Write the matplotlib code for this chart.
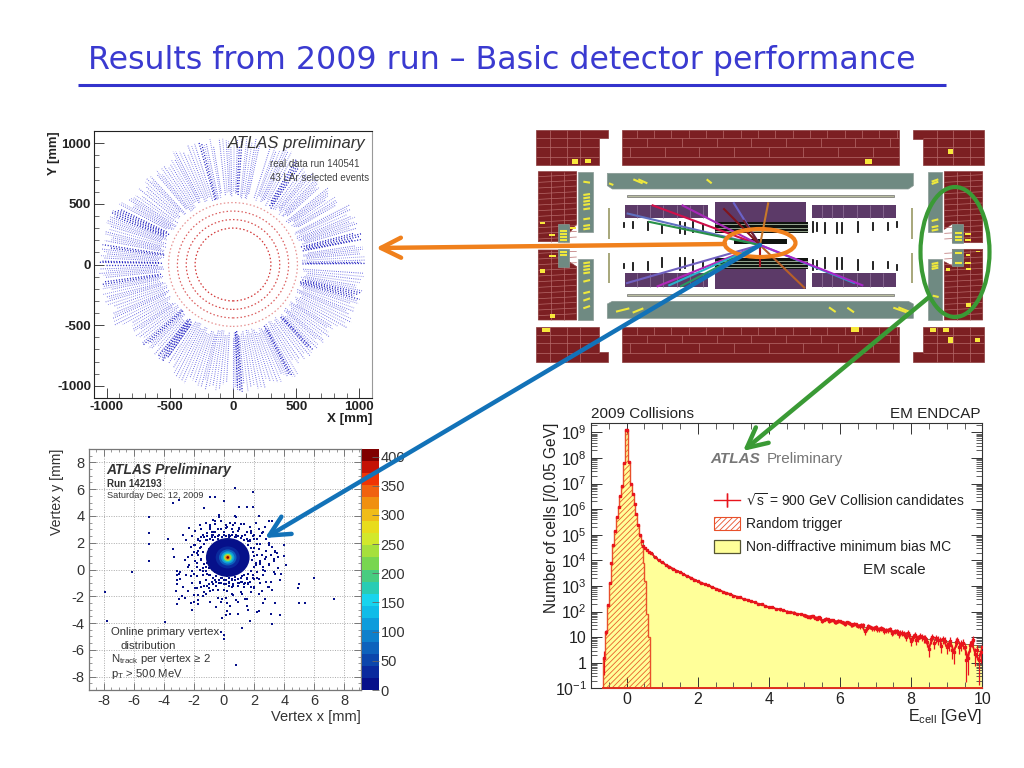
import numpy as np
import matplotlib
matplotlib.use("Agg")
import matplotlib.pyplot as plt
from matplotlib.colors import ListedColormap, Normalize
from matplotlib.cm import ScalarMappable
from matplotlib.collections import LineCollection
from matplotlib.patches import Polygon, Rectangle, Ellipse, Circle, Patch
from matplotlib.ticker import FixedLocator, MultipleLocator, NullFormatter, LogLocator

plt.rcParams['font.family'] = ['Liberation Sans', 'DejaVu Sans']
plt.rcParams['mathtext.default'] = 'regular'
plt.rcParams['hatch.linewidth'] = 0.6
plt.rcParams['axes.unicode_minus'] = False

# ---- data: cell hits (panel 1)
spoke_light = [2,5,7,9,17,19,21,23,26,28,31,33,36,38,40,43,45,47,50,52,55,62,65,67,70,73,78,80,83,88,91,93,96,99,102,
               107,110,113,116,118,121,124,127,129,132,134,137,140,142,145,147,149,151,158,160,162,165,167,169,173,
               175,177,182,184,186,190,192,195,197,200,203,205,208,211,214,216,219,222,225,227,230,233,236,238,241,
               244,247,250,253,256,258,261,264,267,270,272,275,278,281,284,287,290,293,295,298,301,304,306,309,312,
               314,317,319,322,325,327,330,333,336,338,341,343,348,350,353,356]
spoke_extra = [3.5,6,8,18,20,22,24.5,27,32,34.5,37,39,44,46,48.5,51,53.5,63.5,66,68.5,71,79,81.5,84,89.5,92,94.5,100,
               103,108.5,111.5,114.5,117,119.5,122.5,125.5,128,133,135.5,138.5,143.5,146,148,150,159,161,163.5,166,168,
               174,176,183,185,191,193.5,196,198.5,201.5,204,206.5,209.5,212.5,215,217.5,220.5,226,228.5,231.5,234.5,
               239.5,242.5,245.5,248.5,251.5,254.5,257,259.5,262.5,265.5,271,273.5,276.5,279.5,282.5,285.5,288.5,291.5,
               294,296.5,299.5,302.5,307.5,310.5,313,315.5,318,320.5,323.5,326,328.5,331.5,334.5,337,339.5,342,349,351.5,354.5]
spoke_dense = [0.5,1,11.5,12,13,14,15,57,58,59,60,86,87,104,105,153,154,155,156,157,171,172,178.5,179,180,188,189,223,224,
               232,233,234,235,236,272,273,274,296,297,311,312,344,345,346,347]
spoke_start = [550,587,563,604,575,596,557]
spoke_trim = [0,-42,-15,-73,-27,-6,-58,-33,-11]
rim_sector_deg = [0,30,60,120,150,210,240,300,330]
rim_radius = [1050,985,1050,985,1060,975,1050,970,1050]
ring_radii = [300,370,440,510]

# ---- data: vertex map (panel 3)
vx_core_rx = [1.45,0.80,0.58,0.44,0.33,0.25,0.17,0.09]
vx_core_ry = [1.45,0.82,0.60,0.46,0.35,0.26,0.18,0.10]
vx_core_counts = [8,30,70,120,170,240,330,405]
vx_x = [-7.9,-7.8,-6.1,-5,-5,-5,-5,-3.95,-3.4,-3,-0.9,-0.6,0,0.7,1.9,1,1.5,1.9,-1.3,-0.3,0.7,0.8,2.3,3,3.2,4,4,4.1,6,5,4.9,5,5.4,7.3,
        0,0,-0.2,1.2,0.8,1.7,3.2,3.7,3.1,-0.1,0.1,0.2,0.4,0.9,1.5,1.6,2.3,2.2,2.6,3.4,-2.1,-3.1,-3,-2.8,-2.6,-2,-1.7,
        -3.7,-3.4,-3.3,-3.1,-3,-2.9,-3.2,-2.7,-2.5,-2.4,-2.2,-2.1,-2,-1.9,-1.8,-1.7,-1.6,-1.5,-1.4,-1.3,-1.2,-1.1,-1,-0.9,-0.8,
        -2.7,-2.5,-2.3,-2.1,-2,-1.9,-1.8,-1.7,-1.6,-1.5,-1.4,-1.3,-1.2,-1.1,-1,-0.9,-0.8,-0.7,-0.6,
        -2.4,-2.2,-2,-1.8,-1.7,-1.6,-1.4,-1.3,-1.2,-1,-0.9,-0.7,-0.5,-0.4,-0.3,-0.2,0,0.1,0.2,0.3,0.5,0.6,0.8,1,1.1,1.3,1.4,1.6,1.8,2,
        -1.5,-1.3,-1.1,-0.9,-0.7,-0.6,-0.4,-0.2,0,0.1,0.3,0.5,0.7,0.8,1,1.2,1.3,1.5,1.7,1.9,2.1,2.3,2.5,2.7,
        -1.2,-1,-0.8,-0.6,-0.4,-0.2,0,0.2,0.3,0.5,0.7,0.9,1.1,1.3,1.5,1.7,1.8,2,2.2,2.4,2.6,2.8,3,3.2,
        -0.7,-0.4,-0.2,0,0.2,0.4,0.6,0.8,1,1.2,1.4,1.6,1.8,2,2.2,2.4,2.6,2.8,3,3.2,3.4,3.6,
        -0.5,-0.1,0.1,0.4,0.6,0.9,1.2,1.5,2,2.3,2.5,2.7,2.9,3.1,3.4,3.7,
        -1.7,-1.6,-1.9,-2.1,-0.9,-0.8,-0.6,-0.3,0.1,0.4,0.6,0.9,1.1,1.5,1.7,2,2.2,2.4,2.6,2.8,3,3.3,3.5,3.8,
        -1.8,-1.5,-1.4,-1.1,-1,-0.6,-0.2,0.2,0.5,1.2,1.9,2.1,2.4,2.7,3,3.3,3.6]
vx_y = [-1.65,-3.85,-0.15,3.95,2.7,1.9,0.65,-3.95,5,5.2,5.4,5.4,5.1,6.05,5.8,4.65,4.65,4.7,4.6,4.05,4,3.9,4,3.6,3.6,1.8,1,0.3,-0.65,-1.05,-1.4,-2.5,-2.5,-2.2,
        -4.9,-5.2,-4.7,-4.4,-7.1,-3.85,-4.1,-3.4,-3.3,-3.6,-3.4,-3.1,-3.3,-3.3,-2.7,-3,-3.1,-3.2,-2.5,-2.5,-3,-2.6,-2.2,-2,-2.1,-2.4,-2.3,
        2.3,1.5,0.9,-0.1,-0.3,-0.7,-1.6,-1.3,-0.4,0.2,-0.5,-1,-0.3,-1.4,-0.5,-1.9,-0.9,-1.3,-0.4,-1.7,-0.8,-1.2,-0.4,-1.6,-0.9,
        2.6,2.2,3.1,2.5,1.8,2.9,1.2,2.2,3.3,1.7,2.6,1.9,3.5,2.2,1.5,3,2.4,3.7,2.8,
        -1.6,-2.5,-1.9,-1.4,-2.6,-1,-2,-1.2,-1.8,-1.1,-2.4,-1.5,-1.2,-2.1,-1,-2.4,-1.5,-1.1,-2.5,-1,-1.8,-1.2,-2.3,-1,-1.7,-1.3,-2.2,-1,-1.7,-1.3,
        3,2.4,2.7,3.2,2.6,3.4,3,3.6,2.8,3.3,2.6,3,3.5,2.6,3.1,2.5,3.4,2.8,3.2,2.5,3.5,3,2.7,3.2,
        -0.8,-1.4,-0.9,-0.8,-1.5,-1,-0.8,-1.6,-0.9,-1.3,-0.8,-1,-0.9,-1.1,-0.7,-0.9,-1.3,-0.7,-0.6,-1,-0.4,-0.9,-1.3,-1.5,
        2.8,2.5,3,2.6,3.2,2.5,2.8,2.4,3,2.5,2.6,2.1,2.7,2.3,1.9,2.5,2.8,2.3,2,1.7,1.3,0.9,
        -2.8,-2.2,-2.1,-2.7,-1.9,-2.4,-1.8,-2.2,-1.4,-1.8,-1.6,-2.2,-1.3,-0.9,-0.3,-0.8,
        1.4,2.1,0.6,1.1,3.3,2.8,3.6,3.9,3.1,3.5,3.3,2.9,3.4,2.8,2.2,1.6,1.1,0.6,0.2,0.9,0.4,0.6,1.2,-0.3,
        0.2,0.7,-0.1,0.5,0.1,-0.2,-0.6,-0.5,-0.7,-0.5,-0.4,0.3,0.5,-0.1,0.3,-0.2,0.1]
vx_near_x = [-1.3,-1.2,-1.4,-1.5,-1.6,-1.7,-1.8,-1.3,-1.4,-1.2,-1.6,-1.9,-2,-1.1,-0.9,-0.8,-0.7,-0.6,-0.4,-0.3,-0.1,0.1,0.3,0.5,0.7,0.9,
             1.1,1.3,1.5,1.7,1.6,1.8,1.9,2,1.85,2.1,2,1.8,1.6,1.5,1.3,1.1,0.9,0.7,0.5,0.3,0.1,-0.1,-0.3,-0.5,-0.7,-0.9,-1.1,-1.2,
             2.3,2.5,2.7,2.4,2.6,2.2,2.4,2.2,2,1.8,-1.5,-1.7,-2.2,-2.4,-2.3,-2.1,-2.6,-2.9,-3.1,-3.1,-3.1,-0.2,0,0.3,0.6,0.9,-0.5,-0.7,
             1.2,1.4,1.6,1.9,2.3,2.8,3.1,3.3,3,3.4]
vx_near_y = [1.9,2.2,1.3,0.8,1.6,1.1,0.5,0.4,0.1,-0.1,0,1.8,1.3,2.5,2.3,2.6,2.2,2.45,2.3,2.55,2.4,2.5,2.4,2.55,2.4,2.5,
             2.35,2.2,2.3,2.1,1.8,1.6,1.3,1,0.7,0.5,0.2,-0.1,-0.3,-0.6,-0.4,-0.6,-0.7,-0.55,-0.8,-0.65,-0.8,-0.6,-0.75,-0.5,-0.6,-0.4,-0.35,0.15,
             1.5,1.1,0.8,0.4,0,-0.2,1.9,2.3,2.6,2.9,2.4,2.3,1.7,0.9,0.3,-0.1,0.7,-0.2,-0.4,-0.8,-1.1,-1,-1.1,-1.2,-1.1,-1.2,-0.9,-1.1,
             -0.9,-1,-1.1,-0.6,-0.7,1.4,1.1,0.8,1.8,1.4]
colour_levels = ['#06108a','#0a2a9e','#0c46ac','#0e62bc','#0e80cc','#0e9cdc','#10bce8','#18d4ee','#28ccb4','#48cc80',
                 '#78d650','#a6e03c','#d2e82c','#e8dc1c','#f0bc18','#f09010','#f06210','#f03404','#c41204','#800000']

# ---- data: energy spectrum (panel 4)
core_log_rt = [0.2,1.2,2.25,3.1,3.9,4.6,5.15,5.7,6.1,6.5,6.9,7.8,9.1,9.1,7.85,7.0,6.6,6.2,5.8,5.4,5.0,4.6,3.9,3.2,1.9,1.0]
core_log_mc = [0.2,1.2,2.25,3.1,3.9,4.6,5.15,5.7,6.1,6.5,6.9,7.8,9.1,9.1,7.85,7.0,6.6,6.2,5.8,5.4,5.0,4.75,4.58,4.47,4.40,4.33]
tail_log_mc = [4.28,4.14,4.02,3.92,3.84,3.76,3.68,3.61,3.54,3.47,
               3.40,3.33,3.26,3.19,3.13,3.08,3.03,2.97,2.91,2.85,
               2.79,2.74,2.68,2.63,2.59,2.54,2.50,2.45,2.41,2.36,
               2.32,2.27,2.23,2.19,2.16,2.12,2.09,2.05,2.02,1.99,
               1.95,1.92,1.89,1.85,1.82,1.79,1.77,1.74,1.71,1.69,
               1.67,1.64,1.62,1.59,1.56,1.54,1.51,1.49,1.46,1.43,
               1.41,1.38,1.35,1.32,1.29,1.27,1.24,1.22,1.19,1.16,
               1.14,1.11,1.08,1.05,1.03,1.00,0.98,0.96,0.94,0.92,
               0.90,0.88,0.86,0.84,0.82,0.80,0.78,0.76,0.74,0.72,
               0.70,0.68,0.67,0.65]
tail_log_data = [4.27,4.13,4.01,3.92,3.83,3.76,3.68,3.60,3.54,3.46,
                 3.39,3.33,3.25,3.18,3.13,3.07,3.02,2.96,2.90,2.85,
                 2.78,2.73,2.69,2.62,2.58,2.55,2.48,2.46,2.40,2.37,
                 2.30,2.28,2.22,2.17,2.17,2.10,2.08,2.06,2.00,1.98,
                 1.96,1.90,1.90,1.86,1.80,1.83,1.76,1.78,1.62,1.72,
                 1.64,1.66,1.60,1.62,1.55,1.58,1.50,1.52,1.45,1.48,
                 1.22,1.42,1.34,1.38,1.32,1.33,1.26,1.30,1.20,1.22,
                 1.17,1.13,1.16,0.85,1.10,0.98,1.02,0.95,0.55,1.00,
                 0.96,0.88,0.92,0.62,0.85,0.40,0.88,0.72,0.60,0.20,
                 0.82,0.35,0.10,0.60]
half_bin_e = [5.05,5.15,5.25,5.35,5.45,5.55,5.65,5.75,5.85,5.95,6.05,6.15,6.25,6.35,6.45,6.55,6.65,6.75,6.85,6.95,
              7.05,7.15,7.25,7.35,7.45,7.55,7.65,7.75,7.85,7.95,8.05,8.15,8.25,8.35,8.45,8.55,8.65,8.75,8.85,8.95,
              9.05,9.15,9.25,9.35,9.45,9.55,9.65,9.75,9.85,9.95]
half_bin_log = [1.84,1.78,1.81,1.72,1.74,1.68,1.70,1.66,1.60,1.63,1.58,1.52,1.55,1.49,1.50,1.42,1.46,1.36,1.40,1.34,
                1.30,1.34,1.25,1.28,1.18,1.24,1.12,1.16,1.02,1.10,1.00,0.90,1.06,0.96,0.82,0.92,0.78,0.90,0.66,0.86,
                0.70,0.50,0.82,0.62,0.78,0.12,0.68,0.90,0.48,0.42]
ytick_powers = [-1,0,1,2,3,4,5,6,7,8,9]

# ---- data: detector schematic, in schematic units
brick_polys = [[(18,30),(235,30),(235,55),(207,55),(207,135),(18,135)],
               [(275,30),(1107,30),(1107,135),(275,135)],
               [(1150,30),(1363,30),(1363,135),(1178,135),(1178,58),(1150,58)],
               [(18,620),(207,620),(207,697),(235,697),(235,725),(18,725)],
               [(275,620),(1107,620),(1107,725),(275,725)],
               [(1178,620),(1363,620),(1363,725),(1150,725),(1150,697),(1178,697)],
               [(25,155),(140,155),(140,312),(117,340),(117,365),(25,365)],
               [(25,390),(117,390),(117,425),(140,440),(140,600),(25,600)],
               [(1243,155),(1358,155),(1358,368),(1267,368),(1267,312),(1243,328)],
               [(1267,388),(1358,388),(1358,600),(1243,600),(1243,425),(1267,438)]]
grey_polys = [[(232,160),(1150,160),(1150,197),(1135,207),(247,207),(232,197)],
              [(247,544),(1135,544),(1150,552),(1150,595),(232,595),(232,552)],
              [(145,155),(188,155),(188,335),(145,335)],[(145,418),(188,418),(188,600),(145,600)],
              [(1195,155),(1237,155),(1237,335),(1195,335)],[(1195,418),(1237,418),(1237,600),(1195,600)],
              [(83,312),(117,312),(117,365),(83,365)],[(83,388),(117,388),(117,440),(83,440)],
              [(1267,312),(1300,312),(1300,368),(1267,368)],[(1267,388),(1300,388),(1300,438),(1267,438)]]
purple_rects = [(285,255,248,40),(555,247,272,58),(847,255,250,40),(285,460,248,42),(555,447,272,61),(847,460,250,42)]
dark_rects = [(555,305,278,35),(555,415,278,32),(612,358,160,14)]
pale_rects = [(290,224,803,7),(290,521,803,7)]
yellow_rects = [(125,118,20,13),(165,118,18,12),(1253,86,17,16),(1005,116,22,15),(35,624,26,12),(963,622,25,15),
                (1200,624,18,12),(1238,624,18,12),(1253,652,17,16),(1335,654,14,13),(60,582,15,12),(30,448,16,10),
                (58,405,20,6),(58,343,18,6),(30,307,15,5),(120,322,18,5),(1305,340,18,5),(1305,358,18,5),(1307,403,14,5),
                (1305,427,18,5),(1307,445,16,6),(1248,444,12,8),(1337,392,14,4),(1308,550,14,10)]
yellow_segs = [[(310,178),(338,190)],[(325,178),(352,190)],[(530,178),(545,190)],[(237,190),(250,195)],
               [(258,575),(298,565)],[(308,578),(340,565)],[(897,562),(917,576)],[(952,563),(972,577)],
               [(1090,563),(1130,577)],[(1105,562),(1140,576)],
               [(160,185),(180,188)],[(160,225),(180,222)],[(160,235),(180,232)],[(160,245),(180,242)],[(160,255),(180,252)],
               [(160,268),(180,265)],[(160,298),(180,295)],[(160,318),(180,315)],[(160,328),(180,325)],
               [(160,430),(180,427)],[(160,440),(180,437)],[(160,450),(180,447)],[(160,460),(180,457)],
               [(160,485),(180,480)],[(160,520),(180,515)],[(160,542),(180,535)],[(160,565),(180,558)],
               [(1205,185),(1225,178)],[(1205,192),(1225,185)],[(1205,303),(1225,298)],[(1205,322),(1225,318)],[(1205,332),(1225,328)],
               [(1205,432),(1225,428)],[(1205,440),(1225,436)],[(1205,447),(1225,443)],[(1208,527),(1226,531)],
               [(90,333),(110,333)],[(90,342),(110,342)],[(90,351),(110,351)],[(90,360),(110,360)],[(90,395),(110,395)],[(90,405),(110,405)],
               [(1275,340),(1295,340)],[(1275,350),(1295,350)],[(1275,360),(1295,360)],[(1275,400),(1295,400)],[(1275,430),(1295,430)]]
black_ticks_x = [283,310,353,397,450,465,490,520,850,862,885,920,935,985,1030,1075,1100]
black_ticks_top = [(310,322),(305,325),(305,330),(315,340),(305,340),(310,342),(305,335),(312,330),(305,335),
                   (308,332),(310,340),(308,340),(308,340),(305,335),(308,330),(310,330),(305,320)]
side_lines = [[(237,265),(237,358)],[(237,398),(237,490)],[(1147,265),(1147,358)],[(1147,400),(1147,490)]]
track_ends = [(365,255),(455,255),(610,247),(580,265),(715,247),(290,280),(355,305),(288,490),(380,500),
              (415,497),(450,500),(690,440),(825,505),(975,490),(1000,497),(640,300)]
track_colours = ['#d0104a','#a828b8','#6a62c8','#80141c','#c8782a','#6070c0','#289048','#7060c0','#b028b8',
                 '#28b0c8','#289860','#a01020','#b86028','#28a0c8','#a828c8','#702030']
track_origin = (690,375)


def axes_px(x0, y0, x1, y1, **kw):
    return fig.add_axes([x0/1024, 1-y1/768, (x1-x0)/1024, (y1-y0)/768], **kw)


fig = plt.figure(figsize=(10.24, 7.68), dpi=100, facecolor='white')

# ======== panel 1: hits
a = axes_px(94, 131, 372, 398)
a.set_xlim(-1100, 1100); a.set_ylim(-1100, 1100)
def rim(angle):
    i = np.searchsorted(rim_sector_deg, angle % 360, side='right') - 1
    return rim_radius[i]
for angles, col, lw in ((spoke_light, '#5c5ce0', 0.75), (spoke_extra, '#7c7ce8', 0.7), (spoke_dense, '#1c1cc0', 0.95)):
    for k, ang in enumerate(angles):
        t = np.deg2rad(ang)
        r0 = spoke_start[k % len(spoke_start)]
        r1 = rim(ang) + spoke_trim[k % len(spoke_trim)]
        a.plot([r0*np.cos(t), r1*np.cos(t)], [r0*np.sin(t), r1*np.sin(t)],
               color=col, lw=lw, ls=(0, (0.8, 1.3)))
for r, al in zip(ring_radii, (0.95, 0.85, 0.75, 0.5)):
    a.add_patch(Circle((0, 0), r, fill=False, ec='#cf2a2a', lw=0.9, ls=(0, (1.2, 1.8)), alpha=al))
a.set_xticks([-1000, -500, 0, 500, 1000]); a.set_yticks([-1000, -500, 0, 500, 1000])
a.xaxis.set_minor_locator(MultipleLocator(100)); a.yaxis.set_minor_locator(MultipleLocator(100))
a.tick_params(which='major', direction='in', length=7, width=0.7, color='#444', labelsize=9.6, pad=2)
a.tick_params(which='minor', direction='in', length=3.5, width=0.6, color='#555')
for l in a.get_xticklabels() + a.get_yticklabels():
    l.set_fontweight('bold'); l.set_color('#222')
for sd, col in (('top', '#222'), ('left', '#222'), ('bottom', '#222'), ('right', '#999')):
    a.spines[sd].set_color(col); a.spines[sd].set_linewidth(0.8)
a.set_xlabel('X [mm]', fontsize=9.6, fontweight='bold', loc='right', labelpad=0, color='#222')
a.set_ylabel('Y [mm]', fontsize=9.4, fontweight='bold', loc='top', labelpad=-2, color='#222')
a.text(0.975, 0.955, 'ATLAS preliminary', transform=a.transAxes, ha='right', va='center', style='italic', fontsize=12, color='#333')
a.text(0.955, 0.875, 'real data run 140541', transform=a.transAxes, ha='right', va='center', fontsize=7, color='#444')
a.text(0.99, 0.825, '43 LAr selected events', transform=a.transAxes, ha='right', va='center', fontsize=7, color='#444')

# ======== panel 2: detector schematic
d = axes_px(530, 120, 990, 370)
d.set_xlim(0, 1380); d.set_ylim(750, 0); d.axis('off')
for poly in brick_polys:
    d.add_patch(Polygon(poly, closed=True, fc='#7c1f22', ec='#8a3a3a', lw=0.5, zorder=1))
hl = []
for y0 in (30, 620):
    for y in (y0+25, y0+50, y0+80):
        hl += [[(18,y),(207,y)], [(275,y),(1107,y)], [(1178,y),(1363,y)]]
    for k, x in enumerate(range(300, 1100, 52)):
        yy = (y0+25, y0+50) if k % 2 else (y0+50, y0+80)
        hl.append([(x, yy[0]), (x, yy[1])])
        hl.append([(x+20, y0), (x+20, y0+25)])
    for x in (60, 110, 150, 1220, 1270, 1320):
        hl.append([(x, y0), (x, y0+105)])
for x0, x1 in ((25,140),(1243,1358)):
    for y in list(range(170,365,17)) + list(range(400,600,17)):
        hl.append([(x0,y),(x1,y-6)])
    for x in (x0+38, x0+78):
        hl += [[(x,155),(x,365)], [(x,390),(x,600)]]
d.add_collection(LineCollection(hl, colors='#b66a6a', linewidths=0.5, zorder=2))
for poly in grey_polys:
    d.add_patch(Polygon(poly, closed=True, fc='#6f8a82', ec='#8a9a94', lw=0.5, zorder=3))
for x, y, w, h in purple_rects:
    d.add_patch(Rectangle((x, y), w, h, fc='#5c3a68', ec='none', zorder=3))
d.add_collection(LineCollection([[(x,255),(x,295)] for x in range(320,533,40)] + [[(x,460),(x,502)] for x in range(320,533,40)] +
                                [[(x,255),(x,295)] for x in (875,905,940,980,1020,1060)] + [[(x,460),(x,502)] for x in (875,905,940,980,1020,1060)],
                                colors='#8a6c94', linewidths=0.6, zorder=4))
for x, y, w, h in dark_rects:
    d.add_patch(Rectangle((x, y), w, h, fc='#101410', ec='none', zorder=4))
d.add_collection(LineCollection([[(555,y),(833,y)] for y in (313,323,332,423,432,441)], colors='#c8dcc0', linewidths=0.5, zorder=5))
for x, y, w, h in pale_rects:
    d.add_patch(Rectangle((x, y), w, h, fc='#b8bca0', ec='#555', lw=0.4, zorder=3))
for x, (t0, t1) in zip(black_ticks_x, black_ticks_top):
    d.plot([x, x], [t0, t1], color='#111', lw=1.3, zorder=5)
    d.plot([x, x], [755-t1, 755-t0], color='#111', lw=1.3, zorder=5)
d.add_collection(LineCollection(side_lines, colors='#a0a070', linewidths=1.3, zorder=3))
for x, y, w, h in yellow_rects:
    d.add_patch(Rectangle((x, y), w, h, fc='#f8e83c', ec='none', zorder=6))
d.add_collection(LineCollection(yellow_segs, colors='#eee83c', linewidths=1.5, zorder=6))
for end, col in zip(track_ends, track_colours):
    d.plot([track_origin[0], end[0]], [track_origin[1], end[1]], color=col, lw=1.5, zorder=7, solid_capstyle='butt')

# ======== panel 3: vertex map
v = axes_px(88.5, 449, 361, 690)
v.set_xlim(-9, 9.1); v.set_ylim(-9, 9)
cmap = ListedColormap(colour_levels)
norm = Normalize(0, 413)
v.scatter(vx_x, vx_y, s=3.0, marker='s', color=colour_levels[0], linewidths=0, zorder=3)
v.scatter(vx_near_x, vx_near_y, s=3.5, marker='s', color=colour_levels[0], linewidths=0, zorder=3)
for rx, ry, n in zip(vx_core_rx, vx_core_ry, vx_core_counts):
    v.add_patch(Ellipse((0.25, 0.9), 2*rx, 2*ry, fc=cmap(norm(n)), ec='none', zorder=4))
v.set_xticks(range(-8, 9, 2)); v.set_yticks(range(-8, 9, 2))
v.xaxis.set_minor_locator(MultipleLocator(0.5)); v.yaxis.set_minor_locator(MultipleLocator(0.5))
v.grid(True, which='major', color='#aaaaaa', lw=0.7, ls=(0, (1, 1.5)))
v.set_axisbelow(True)
v.tick_params(which='major', direction='in', length=5, width=0.7, color='#777', labelsize=10.5, labelcolor='#333', pad=3, top=True, right=True)
v.tick_params(which='minor', direction='in', length=2.5, width=0.6, color='#888', top=True, right=True)
for sp in v.spines.values():
    sp.set_color('#777'); sp.set_linewidth(0.9)
v.set_xlabel('Vertex x [mm]', fontsize=10.5, loc='right', labelpad=1, color='#333')
v.set_ylabel('Vertex y [mm]', fontsize=10.2, loc='top', labelpad=5, color='#333')
kw = dict(transform=v.transData, va='center', color='#333', zorder=6)
v.text(-7.8, 7.45, 'ATLAS Preliminary', style='italic', fontweight='bold', fontsize=10, **kw)
v.text(-7.8, 6.35, 'Run 142193', fontweight='bold', fontsize=7, **kw)
v.text(-7.8, 5.5, 'Saturday Dec. 12, 2009', fontsize=6.6, **kw)
v.text(-7.5, -4.65, 'Online primary vertex', fontsize=8.2, **kw)
v.text(-6.9, -5.75, 'distribution', fontsize=8.2, **kw)
v.text(-7.5, -6.7, r'N$_{track}$ per vertex ≥ 2', fontsize=8.2, **kw)
v.text(-7.5, -7.8, r'p$_{T}$ > 500 MeV', fontsize=8.2, **kw)
c = axes_px(362, 449, 378.5, 690)
cb = fig.colorbar(ScalarMappable(norm=norm, cmap=cmap), cax=c)
cb.set_ticks(range(0, 401, 50))
cb.ax.tick_params(direction='in', length=5, width=0.6, color='#666', labelsize=10.5, labelcolor='#333', pad=1.5)
cb.outline.set_visible(False)

# ======== panel 4: spectrum
s = axes_px(591, 422.7, 982.3, 688.3)
core_edges = np.round(np.arange(-0.65, 0.651, 0.05), 2)
core_mid = (core_edges[:-1] + core_edges[1:]) / 2
tail_e = np.round(np.arange(0.7, 10.05, 0.1), 1)
edges = np.concatenate([core_edges, tail_e + 0.05])
mc = 10.0 ** np.array(core_log_mc + tail_log_mc)
rt = 10.0 ** np.array(core_log_rt)
dat_x = np.concatenate([core_mid, tail_e])
dat_y = 10.0 ** np.array(core_log_mc + tail_log_data)
half_y = 10.0 ** np.array(half_bin_log)
s.set_yscale('log')
s.set_xlim(-1, 10); s.set_ylim(0.1, 2.4e9)
s.stairs(mc, edges, baseline=0.1, fill=True, facecolor='#ffff99', edgecolor='none', zorder=1)
s.stairs(mc, edges, baseline=0.1, fill=False, edgecolor='#666644', lw=0.6, zorder=2)
s.stairs(rt, core_edges, baseline=0.1, fill=True, facecolor='none', edgecolor='#e8602a', hatch='//////', lw=0, zorder=3)
s.stairs(rt, core_edges, baseline=0.1, fill=False, edgecolor='#e8502a', lw=1.0, zorder=3)
s.plot([-0.65, 10], [0.1, 0.1], color='#e03020', lw=1.4, zorder=4, clip_on=False)
for xs, ys in ((dat_x, dat_y), (half_bin_e, half_y)):
    err = np.sqrt(ys)
    s.errorbar(xs, ys, yerr=[np.minimum(err, ys - 0.1001), err], fmt='s', ms=2.0, color='#e8141c', ecolor='#e8141c',
               elinewidth=0.9, capsize=0, zorder=5)
s.plot(dat_x[26:], dat_y[26:], color='#e8141c', lw=1.3, zorder=5)
s.set_xticks(range(0, 11, 2))
s.xaxis.set_minor_locator(MultipleLocator(0.5))
s.yaxis.set_major_locator(FixedLocator([10.0**p for p in ytick_powers]))
s.yaxis.set_minor_locator(LogLocator(base=10, subs=range(2, 10), numticks=20))
s.yaxis.set_minor_formatter(NullFormatter())
s.set_yticklabels([r'10$^{-1}$', '1', '10'] + [rf'10$^{{{p}}}$' for p in ytick_powers[3:]])
s.tick_params(which='major', direction='in', length=8, width=0.7, color='#333', labelsize=11.5, labelcolor='#222', top=True, right=True, pad=3)
s.tick_params(which='minor', direction='in', length=4, width=0.6, color='#444', top=True, right=True)
for sp in s.spines.values():
    sp.set_color('#333'); sp.set_linewidth(0.8)
s.set_xlabel(r'E$_{cell}$ [GeV]', fontsize=11.5, loc='right', labelpad=0, color='#222')
s.set_ylabel('Number of cells [/0.05 GeV]', fontsize=11.2, loc='top', labelpad=-3, color='#222')
s.text(0, 1.005, '2009 Collisions', transform=s.transAxes, fontsize=11, color='#222', va='bottom')
s.text(0.995, 1.005, 'EM ENDCAP', transform=s.transAxes, fontsize=11, color='#222', va='bottom', ha='right')
s.text(0.305, 0.865, 'ATLAS', transform=s.transAxes, fontsize=11, style='italic', fontweight='bold', color='#777', va='center')
s.text(0.448, 0.865, 'Preliminary', transform=s.transAxes, fontsize=11, color='#777', va='center')
s.text(0.695, 0.447, 'EM scale', transform=s.transAxes, fontsize=11, color='#222', va='center')
h_data = s.errorbar([], [], yerr=[], fmt='-', marker='|', ms=10, color='#e8141c', lw=1)
h_rt = Patch(facecolor='white', edgecolor='#e8502a', hatch='//////', lw=0.8)
h_mc = Patch(facecolor='#ffff99', edgecolor='#555533', lw=0.9)
leg = s.legend([h_data, h_rt, h_mc], [r'$\sqrt{s}$ = 900 GeV Collision candidates', 'Random trigger', 'Non-diffractive minimum bias MC'],
               loc='upper left', bbox_to_anchor=(0.315, 0.74), frameon=False, fontsize=10, handlelength=1.87, handleheight=1.1,
               labelspacing=0.6, handletextpad=0.45, borderpad=0, borderaxespad=0)
for t in leg.get_texts():
    t.set_color('#222')

# ======== slide title, ellipses, arrows
o = fig.add_axes([0, 0, 1, 1], facecolor='none')
o.set_xlim(0, 1024); o.set_ylim(768, 0); o.axis('off')
o.text(88, 61, 'Results from 2009 run \u2013 Basic detector performance', family='DejaVu Sans', fontsize=22.8,
       color='#3a3ad0', va='center', ha='left')
o.plot([78, 946], [85, 85], color='#3333cc', lw=2.2, solid_capstyle='butt')
o.add_patch(Ellipse((760, 243), 71, 28, fill=False, ec='#f0801c', lw=3))
o.add_patch(Ellipse((955, 252), 69, 130, fill=False, ec='#3a9a35', lw=3))
for p0, p1, col in (((725, 244), (376, 248), '#f0801c'), ((760, 245), (265, 538), '#1272b8'), ((928, 298), (743, 451), '#3a9a35')):
    o.annotate('', xy=p1, xytext=p0, xycoords='data', textcoords='data',
               arrowprops=dict(arrowstyle='->,head_length=0.9,head_width=0.45', color=col, lw=3.2,
                               shrinkA=0, shrinkB=0, mutation_scale=16))

fig.savefig('out.png', dpi=100)
